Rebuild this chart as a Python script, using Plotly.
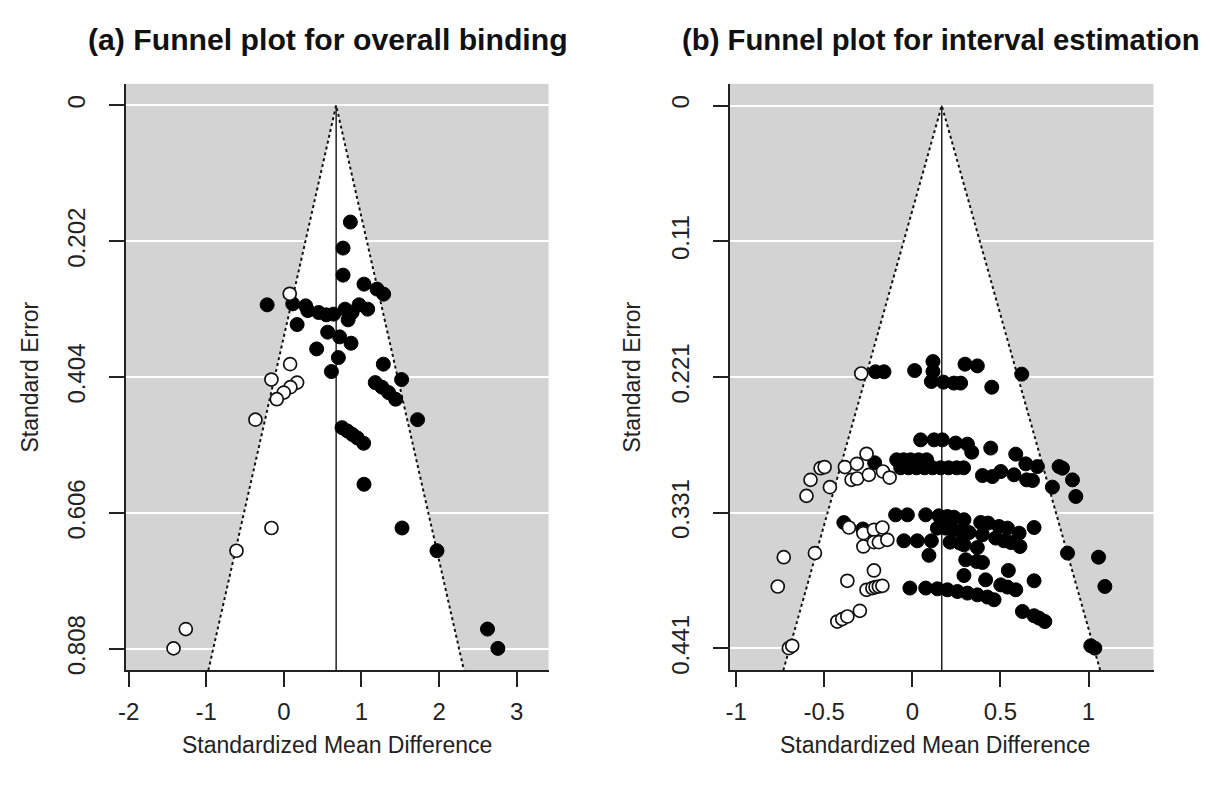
import plotly.graph_objects as go

# ---------------- Panel (a): overall binding ----------------
a_obs_smd = [0.857, 0.763, 0.763, 1.033, 1.201, 1.286, -0.215, 0.115, 0.282, 0.308,
             0.449, 0.548, 0.642, 0.789, 0.879, 0.828, 0.969, 1.080, 0.171, 0.565,
             0.719, 0.866, 0.423, 0.703, 0.613, 1.282, 1.517, 1.178, 1.264, 1.350,
             1.440, 1.723, 0.750, 0.819, 0.883, 0.947, 1.028, 1.033, 1.523, 1.973,
             2.624, 2.758]
a_obs_se = [0.1735, 0.2122, 0.2524, 0.2658, 0.2732, 0.2807, 0.2966, 0.2951, 0.2981, 0.3051,
            0.3080, 0.3115, 0.3104, 0.3030, 0.3080, 0.3189, 0.2966, 0.3030, 0.3259, 0.3372,
            0.3442, 0.3536, 0.3621, 0.3750, 0.3958, 0.3848, 0.4077, 0.4122, 0.4190, 0.4271,
            0.4369, 0.4673, 0.4792, 0.4841, 0.4893, 0.4945, 0.5024, 0.5634, 0.6284, 0.6622,
            0.7787, 0.8074]
a_fill_smd = [0.076, 0.081, -0.160, 0.171, 0.085, -0.001, -0.091, -0.366, -0.160, -0.610,
              -1.263, -1.421]
a_fill_se = [0.2802, 0.3848, 0.4077, 0.4122, 0.4190, 0.4271, 0.4369, 0.4673, 0.6284, 0.6622,
             0.7787, 0.8074]
a_center = 0.674
a_xticks = [-2, -1, 0, 1, 2, 3]
a_xticklabels = ["-2", "-1", "0", "1", "2", "3"]
a_yticks = [0, 0.202, 0.404, 0.606, 0.808]
a_yticklabels = ["0", "0.202", "0.404", "0.606", "0.808"]
a_title = "(a) Funnel plot for overall binding"

# ---------------- Panel (b): interval estimation ----------------
b_obs_smd = [
    # row near 0.22
    -0.209, -0.161, 0.013, 0.117, 0.117, 0.108, 0.176, 0.236, 0.274, 0.299, 0.369, 0.451, 0.621,
    # row near 0.28-0.31
    -0.214, 0.047, 0.123, 0.170, 0.246, 0.3125, 0.337, 0.445, 0.587, 0.644, 0.710, 0.833, 0.852,
    0.909, 0.928, 0.795, 0.398, 0.4545, 0.502, 0.577, 0.649, 0.682,
    -0.089, -0.049, -0.010, 0.035, 0.081,
    -0.066, -0.021, 0.024, 0.070, 0.115, 0.161, 0.206, 0.252, 0.291,
    # row near 0.33-0.36
    -0.389, -0.281, -0.095, -0.028, 0.076, 0.151, 0.199, 0.236, 0.293, 0.388, 0.430, 0.492, 0.540,
    0.606, 0.691, 0.142, 0.189, 0.236, 0.284, 0.322, 0.398, 0.473, 0.520, 0.559, 0.611,
    -0.048, 0.028, 0.108, 0.214, 0.270, 0.293, 0.369, 0.094, 0.303, 0.365, 0.398, 0.293, 0.416,
    0.545, 0.691,
    # row near 0.39-0.42
    -0.014, 0.076, 0.142, 0.199, 0.256, 0.3125, 0.369, 0.426, 0.464, 0.502, 0.540, 0.587,
    0.625, 0.691, 0.719, 0.752, 0.881, 1.057, 1.093, 1.013, 1.036]
b_obs_se = [
    0.2163, 0.2163, 0.2153, 0.2080, 0.2161, 0.2242, 0.2247, 0.2255, 0.2255, 0.2101, 0.2115, 0.2288, 0.2182,
    0.2902, 0.2716, 0.2716, 0.2716, 0.2742, 0.2751, 0.2816, 0.2783, 0.2832, 0.2911, 0.2933, 0.2933, 0.2946,
    0.3041, 0.3176, 0.3100, 0.3006, 0.3014, 0.2973, 0.3000, 0.3041, 0.3046,
    0.2878, 0.2878, 0.2878, 0.2878, 0.2878,
    0.2943, 0.2943, 0.2943, 0.2943, 0.2943, 0.2943, 0.2943, 0.2943, 0.2943,
    0.3388, 0.3440, 0.3325, 0.3325, 0.3325, 0.3333, 0.3339, 0.3344, 0.3365, 0.3387, 0.3392, 0.3420, 0.3433,
    0.3474, 0.3428, 0.3433, 0.3433, 0.3447, 0.3461, 0.3469, 0.3487, 0.3514, 0.3536, 0.3550, 0.3582,
    0.3536, 0.3536, 0.3536, 0.3547, 0.3555, 0.3569, 0.3591, 0.3654, 0.3690, 0.3704, 0.3712, 0.3818, 0.3853,
    0.3777, 0.3861,
    0.3920, 0.3920, 0.3926, 0.3934, 0.3948, 0.3961, 0.3975, 0.3993, 0.4015, 0.3894, 0.3912, 0.3934,
    0.4110, 0.4145, 0.4164, 0.4192, 0.3636, 0.3669, 0.3907, 0.4389, 0.4408]
b_fill_smd = [-0.290,
              -0.260, -0.521, -0.498, -0.578, -0.601, -0.468, -0.383, -0.315, -0.345, -0.313, -0.247,
              -0.167, -0.129,
              -0.360, -0.278, -0.218, -0.170, -0.278, -0.218, -0.190, -0.142, -0.730, -0.553, -0.764,
              -0.369, -0.218, -0.260, -0.227, -0.209, -0.190, -0.170, -0.426, -0.398, -0.369, -0.298,
              -0.701, -0.682]
b_fill_se = [0.2177,
             0.2829, 0.2946, 0.2937, 0.3041, 0.3171, 0.3100, 0.2937, 0.2911, 0.3041, 0.3030, 0.3000,
             0.2973, 0.3022,
             0.3428, 0.3474, 0.3447, 0.3428, 0.3582, 0.3547, 0.3547, 0.3528, 0.3669, 0.3636, 0.3907,
             0.3861, 0.3777, 0.3934, 0.3920, 0.3912, 0.3907, 0.3902, 0.4192, 0.4172, 0.4151, 0.4105,
             0.4408, 0.4389]
b_center = 0.167
b_xticks = [-1, -0.5, 0, 0.5, 1]
b_xticklabels = ["-1", "-0.5", "0", "0.5", "1"]
b_yticks = [0, 0.11025, 0.2205, 0.33075, 0.441]
b_yticklabels = ["0", "0.11", "0.221", "0.331", "0.441"]
b_title = "(b) Funnel plot for interval estimation"

X_LABEL = "Standardized Mean Difference"
Y_LABEL = "Standard Error"

# ---------------- layout constants ----------------
W, H = 1210, 790
FONT = "Liberation Sans, Arial, Helvetica, sans-serif"
GRAY = "#d3d3d3"

# empirical mapping from target screenshot pixels to paper fractions
OX, SW = 15.5, 1202.0
OY, SH = 8.2, 784.4


def px_x(px):
    return (px - OX) / SW


def px_y(py):
    return 1 - (py - OY) / SH


panels = [
    dict(obs_x=a_obs_smd, obs_y=a_obs_se, fill_x=a_fill_smd, fill_y=a_fill_se, center=a_center,
         xt=a_xticks, xtl=a_xticklabels, yt=a_yticks, ytl=a_yticklabels, title=a_title,
         xrange=[-2.04, 3.41], yrange=[0.840, -0.032], xdom=[px_x(125), px_x(548)],
         ylab_px=30, title_px=327, title_size=30.2, xlab_px=336),
    dict(obs_x=b_obs_smd, obs_y=b_obs_se, fill_x=b_fill_smd, fill_y=b_fill_se, center=b_center,
         xt=b_xticks, xtl=b_xticklabels, yt=b_yticks, ytl=b_yticklabels, title=b_title,
         xrange=[-1.038, 1.369], yrange=[0.4588, -0.0176], xdom=[px_x(729), px_x(1153)],
         ylab_px=632, title_px=940, title_size=29.3, xlab_px=934),
]
ydom = [px_y(670), px_y(84)]

fig = go.Figure()
annotations = []
for i, p in enumerate(panels):
    sfx = "" if i == 0 else str(i + 1)
    xa, ya = "x" + sfx, "y" + sfx
    ybot = p["yrange"][0]
    c = p["center"]
    half = 1.96 * ybot
    # white funnel region
    fig.add_trace(go.Scatter(x=[c - half, c, c + half], y=[ybot, 0, ybot], mode="lines",
                             fill="toself", fillcolor="white", line=dict(width=0),
                             hoverinfo="skip", showlegend=False, xaxis=xa, yaxis=ya))
    # dotted funnel edges
    fig.add_trace(go.Scatter(x=[c - half, c, c + half], y=[ybot, 0, ybot], mode="lines",
                             line=dict(color="#111111", width=2, dash="dot"),
                             hoverinfo="skip", showlegend=False, xaxis=xa, yaxis=ya))
    # vertical reference line at the estimate
    fig.add_trace(go.Scatter(x=[c, c], y=[0, ybot], mode="lines",
                             line=dict(color="#222222", width=1.5),
                             hoverinfo="skip", showlegend=False, xaxis=xa, yaxis=ya))
    # observed studies
    fig.add_trace(go.Scatter(x=p["obs_x"], y=p["obs_y"], mode="markers",
                             marker=dict(size=14, color="black", line=dict(color="black", width=1)),
                             showlegend=False, xaxis=xa, yaxis=ya))
    # imputed studies (trim and fill)
    fig.add_trace(go.Scatter(x=p["fill_x"], y=p["fill_y"], mode="markers",
                             marker=dict(size=13, color="white", line=dict(color="#111111", width=1.7)),
                             showlegend=False, xaxis=xa, yaxis=ya))

    axis_common = dict(showline=True, linecolor="#222222", linewidth=1.5, ticks="outside",
                       ticklen=15, tickwidth=1.5, tickcolor="#222222", zeroline=False,
                       tickfont=dict(family=FONT, size=24, color="#222222"), tickmode="array")
    fig.update_layout(**{
        "xaxis" + sfx: dict(axis_common, domain=p["xdom"], range=p["xrange"], anchor=ya,
                            tickvals=p["xt"], ticktext=p["xtl"], showgrid=False,
                            ticklabelstandoff=4),
        "yaxis" + sfx: dict(axis_common, domain=ydom, range=p["yrange"], anchor=xa,
                            tickvals=p["yt"], ticktext=p["ytl"], showgrid=True,
                            gridcolor="white", gridwidth=2, tickangle=-90,
                            ticklabelstandoff=14),
    })
    annotations.append(dict(text="<b>" + p["title"] + "</b>", x=px_x(p["title_px"]), y=px_y(40),
                            xref="paper", yref="paper", showarrow=False, xanchor="center",
                            yanchor="middle",
                            font=dict(family=FONT, size=p["title_size"], color="#111111")))
    annotations.append(dict(text=X_LABEL, x=px_x(p["xlab_px"]), y=px_y(745), xref="paper",
                            yref="paper", showarrow=False, xanchor="center", yanchor="middle",
                            font=dict(family=FONT, size=23, color="#222222")))
    annotations.append(dict(text=Y_LABEL, x=px_x(p["ylab_px"]), y=px_y(377), xref="paper",
                            yref="paper", showarrow=False, xanchor="center", yanchor="middle",
                            textangle=-90, font=dict(family=FONT, size=23, color="#222222")))

fig.update_layout(width=W, height=H, margin=dict(l=0, r=0, t=0, b=0),
                  paper_bgcolor="white", plot_bgcolor=GRAY, annotations=annotations,
                  showlegend=False)
fig.write_html("out.html")
